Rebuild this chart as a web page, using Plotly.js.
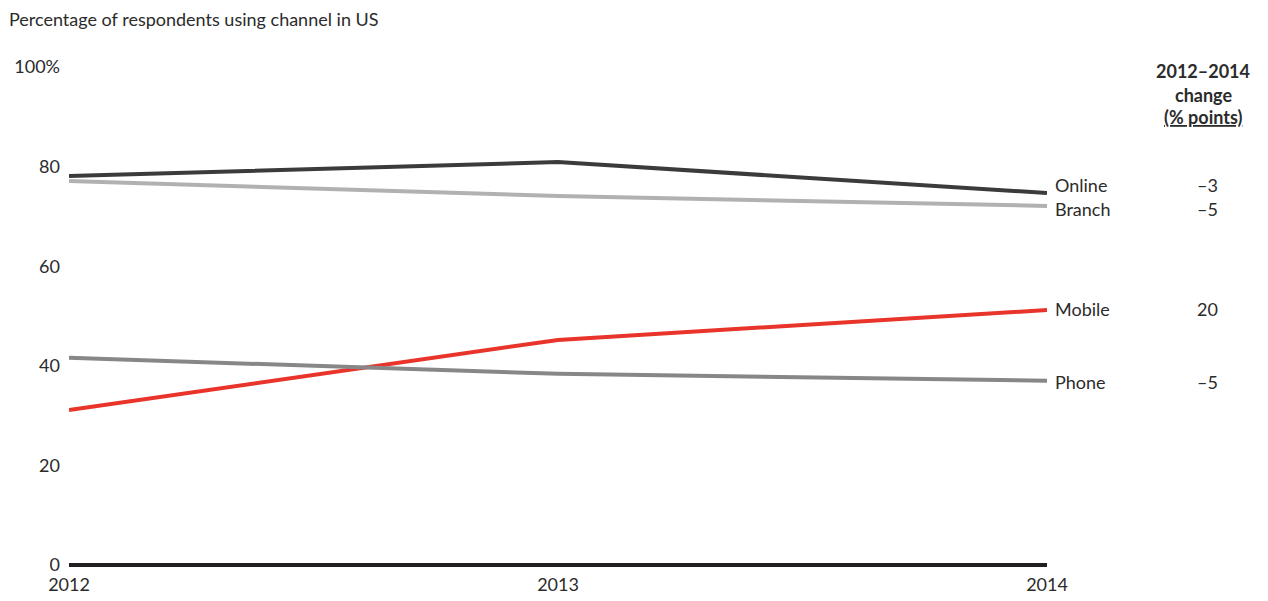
<!DOCTYPE html>
<html>
<head>
<meta charset="utf-8">
<script src="https://cdn.plot.ly/plotly-3.0.1.min.js"></script>
<style>html,body{margin:0;padding:0;background:#fff;}#chart{width:1268px;height:601px;}</style>
</head>
<body>
<div id="chart"></div>
<script>
const years = [2012, 2013, 2014];
const seriesNames = ["Online", "Branch", "Mobile", "Phone"];
const online = [78.1, 80.9, 74.7];
const branch = [77.1, 74.1, 72.1];
const mobile = [31.1, 45.2, 51.2];
const phone = [41.6, 38.4, 37.0];
const changes = ["–3", "–5", "20", "–5"];
const yTicks = [0, 20, 40, 60, 80, 100];
const yTickLabels = ["0", "20", "40", "60", "80", "100%"];
const xTickLabels = ["2012", "2013", "2014"];

const values = [online, branch, mobile, phone];
const colors = ["#3b3b3b", "#b1b1b1", "#e8342b", "#87878a"];
const labelShift = [8, -3, 1, -1];

const FONT = "Lato, 'Open Sans', sans-serif";
const TXT = "#2b2b2b";
const FS = 18;

const traces = values.map((v, i) => ({
  x: years, y: v, type: "scatter", mode: "lines", name: seriesNames[i],
  line: {color: colors[i], width: 4}, hoverinfo: "skip", cliponaxis: false
}));

const annotations = [];
values.forEach((v, i) => {
  annotations.push({x: 2014, y: v[v.length-1], xref: "x", yref: "y", text: seriesNames[i],
    showarrow: false, xanchor: "left", yanchor: "middle", xshift: 6, yshift: labelShift[i],
    font: {family: FONT, size: FS, color: TXT}});
  annotations.push({x: (1220-69)/978, y: v[v.length-1], xref: "paper", yref: "y", text: changes[i],
    showarrow: false, xanchor: "right", yanchor: "middle", yshift: labelShift[i],
    font: {family: FONT, size: FS, color: TXT}});
});
const hx = (1203-69)/978;
const HS = 18;
annotations.push({x: hx, y: (565-71)/498, xref: "paper", yref: "paper", text: "<b>2012–2014</b>", showarrow: false, xanchor: "center", yanchor: "middle", font: {family: FONT, size: HS, color: TXT}});
annotations.push({x: hx, y: (565-95)/498, xref: "paper", yref: "paper", text: "<b>change</b>", showarrow: false, xanchor: "center", yanchor: "middle", font: {family: FONT, size: HS, color: TXT}});
annotations.push({x: hx, y: (565-117)/498, xref: "paper", yref: "paper", text: "<b><span style=\"text-decoration:underline\">(% points)</span></b>", showarrow: false, xanchor: "center", yanchor: "middle", font: {family: FONT, size: HS, color: TXT}});
annotations.push({x: -62/978, y: (565-19)/498, xref: "paper", yref: "paper", text: "Percentage of respondents using channel in US", showarrow: false, xanchor: "left", yanchor: "middle", font: {family: FONT, size: FS, color: TXT}});

const layout = {
  width: 1268, height: 601,
  margin: {l: 69, r: 221, t: 67, b: 36, pad: 0},
  paper_bgcolor: "#fff", plot_bgcolor: "#fff",
  showlegend: false,
  xaxis: {range: [2012, 2014], tickvals: years, ticktext: xTickLabels, showgrid: false, zeroline: false,
    showline: false, ticks: "", tickfont: {family: FONT, size: FS, color: TXT}, ticklabelstandoff: 7, fixedrange: true},
  yaxis: {range: [0, 100], tickvals: yTicks, ticktext: yTickLabels, showgrid: false, zeroline: true,
    zerolinecolor: "#231f20", zerolinewidth: 4, showline: false, ticks: "",
    tickfont: {family: FONT, size: FS, color: TXT}, ticklabelstandoff: 8, fixedrange: true},
  annotations: annotations
};

Plotly.newPlot("chart", traces, layout, {displayModeBar: false, staticPlot: true});
</script>
</body>
</html>
